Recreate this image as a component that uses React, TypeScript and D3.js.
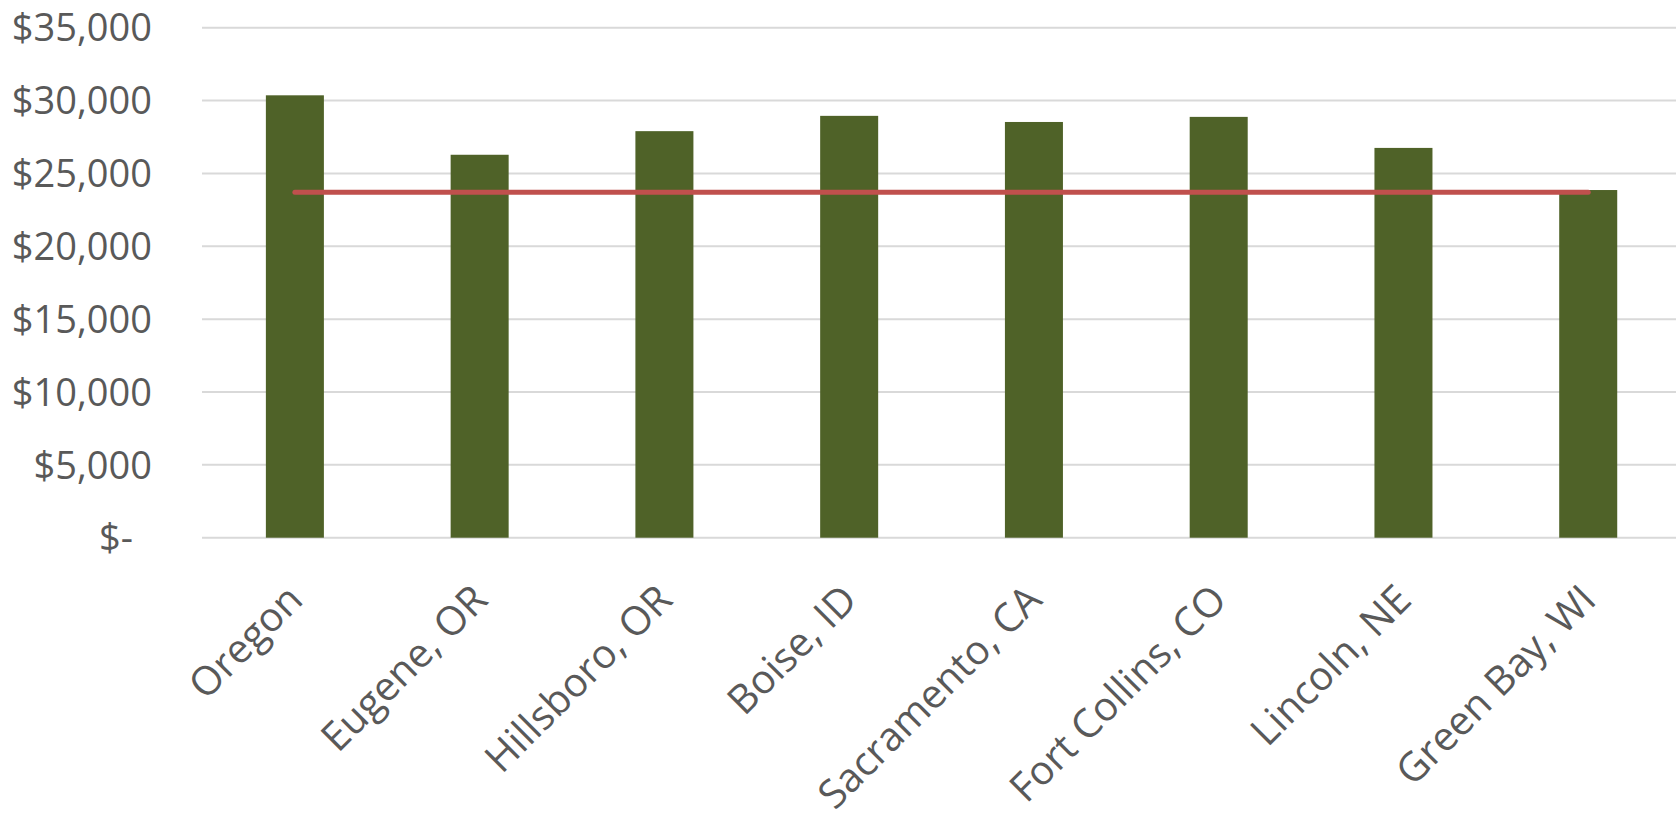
import React from "react";
import * as d3 from "d3";

const categories = [
  "Oregon",
  "Eugene, OR",
  "Hillsboro, OR",
  "Boise, ID",
  "Sacramento, CA",
  "Fort Collins, CO",
  "Lincoln, NE",
  "Green Bay, WI",
];
const barValues = [30360, 26280, 27900, 28950, 28530, 28880, 26750, 23860];
const lineValues = [23710, 23710, 23710, 23710, 23710, 23710, 23710, 23710];
const tickValues = [0, 5000, 10000, 15000, 20000, 25000, 30000, 35000];
const tickLabels = ["$-", "$5,000", "$10,000", "$15,000", "$20,000", "$25,000", "$30,000", "$35,000"];

const W = 1676;
const H = 818;
const FONT = "'Open Sans', 'Noto Sans', sans-serif";
const TEXT = "#595959";

export default function App() {
  const x = d3
    .scaleBand<string>()
    .domain(categories)
    .range([202.5, 1680.6])
    .paddingInner(0.686)
    .paddingOuter(0.343);
  const y = d3.scaleLinear().domain([0, 35000]).range([537.7, 27.7]);
  const cx = (c: string) => (x(c) as number) + x.bandwidth() / 2;

  const line = d3
    .line<number>()
    .x((_, i) => cx(categories[i]))
    .y((d) => y(d));

  return (
    <svg
      width={W}
      height={H}
      style={{ position: "absolute", left: 0, top: 0, background: "#fff" }}
      fontFamily={FONT}
    >
      <rect x={0} y={0} width={W} height={H} fill="#fff" />
      {tickValues.map((t, i) => (
        <g key={t}>
          <line x1={202} x2={W} y1={y(t)} y2={y(t)} stroke="#D9D9D9" strokeWidth={2} />
          <text
            x={t === 0 ? 133 : 152}
            y={y(t)}
            dy="0.36em"
            textAnchor="end"
            fontSize={38}
            fill={TEXT}
          >
            {tickLabels[i]}
          </text>
        </g>
      ))}
      {categories.map((c, i) => (
        <rect
          key={c}
          x={x(c)}
          y={y(barValues[i])}
          width={x.bandwidth()}
          height={y(0) - y(barValues[i])}
          fill="#4F6228"
        />
      ))}
      <path
        d={line(lineValues) || ""}
        fill="none"
        stroke="#C0504D"
        strokeWidth={5}
        strokeLinecap="round"
      />
      {categories.map((c) => (
        <text
          key={c}
          transform={`translate(${cx(c) + 10},${602}) rotate(-45)`}
          textAnchor="end"
          fontSize={40}
          fill={TEXT}
        >
          {c}
        </text>
      ))}
    </svg>
  );
}
